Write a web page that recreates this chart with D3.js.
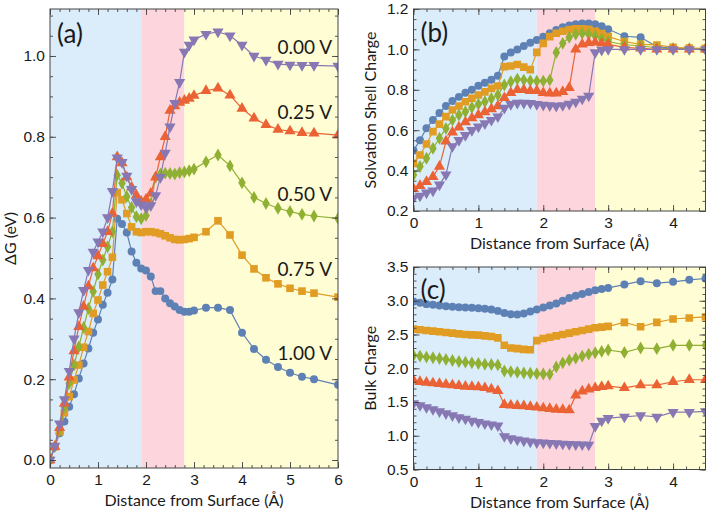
<!DOCTYPE html>
<html>
<head>
<meta charset="utf-8">
<script src="https://cdn.jsdelivr.net/npm/d3@7"></script>
<style>
  body { margin: 0; background: #fff; }
  .tick text { font-family: "Liberation Sans", Arial, sans-serif; font-size: 15.5px; fill: #1a1a1a; }
  .title { font-family: Lato, sans-serif; font-size: 16px; fill: #1a1a1a; }
  .curvelabel { font-family: Lato, sans-serif; font-size: 19px; fill: #1a1a1a; }
  .panellabel { font-family: Lato, sans-serif; font-size: 26px; fill: #1a1a1a; }
</style>
</head>
<body>
<svg id="drawing_region" width="707" height="514"></svg>
<script>
// x grids (distance from surface, Å)
const xA = [0,0.1,0.2,0.3,0.4,0.5,0.6,0.7,0.8,0.9,1.0,1.1,1.2,1.3,1.4,1.5,1.6,1.7,1.8,1.9,
            2.0,2.1,2.2,2.3,2.4,2.5,2.6,2.7,2.8,2.9,3.0,3.25,3.5,3.75,4.0,4.25,4.5,4.75,5.0,5.25,5.5,6.0];
const xB = [0,0.1,0.2,0.3,0.4,0.5,0.6,0.7,0.8,0.9,1.0,1.1,1.2,1.3,1.4,1.5,1.6,1.7,1.8,1.9,
            2.0,2.1,2.2,2.3,2.4,2.5,2.6,2.7,2.8,2.9,3.0,3.25,3.5,3.75,4.0,4.25,4.5];

const potentials = ["1.00 V", "0.75 V", "0.50 V", "0.25 V", "0.00 V"];

// (a) free energy, eV
const dgV100 = [0,0.033,0.066,0.095,0.132,0.163,0.202,0.239,0.276,0.315,0.348,0.384,0.414,0.447,0.597,0.584,0.563,0.516,0.488,0.474,
                0.469,0.454,0.418,0.418,0.40,0.388,0.38,0.371,0.367,0.367,0.37,0.377,0.377,0.371,0.315,0.275,0.248,0.23,0.216,0.206,0.2,0.186];
const dgV075 = [0,0.033,0.07,0.117,0.157,0.198,0.235,0.279,0.318,0.363,0.396,0.433,0.466,0.502,0.662,0.644,0.61,0.577,0.565,0.563,
                0.565,0.565,0.563,0.56,0.555,0.55,0.546,0.545,0.546,0.548,0.551,0.565,0.592,0.557,0.507,0.473,0.451,0.436,0.425,0.418,0.413,0.403];
const dgV050 = [0,0.033,0.075,0.13,0.19,0.235,0.28,0.328,0.375,0.417,0.46,0.495,0.528,0.565,0.705,0.685,0.652,0.625,0.602,0.597,
                0.605,0.635,0.70,0.708,0.71,0.709,0.708,0.711,0.713,0.716,0.72,0.738,0.755,0.728,0.686,0.65,0.635,0.623,0.615,0.608,0.604,0.598];
const dgV025 = [0,0.033,0.08,0.14,0.205,0.27,0.33,0.38,0.43,0.475,0.505,0.535,0.565,0.61,0.75,0.735,0.70,0.675,0.655,0.64,
                0.645,0.66,0.70,0.75,0.80,0.865,0.876,0.885,0.89,0.895,0.902,0.914,0.92,0.903,0.87,0.846,0.83,0.818,0.814,0.81,0.809,0.804];
const dgV000 = [0,0.035,0.09,0.15,0.22,0.30,0.365,0.42,0.47,0.515,0.54,0.565,0.60,0.665,0.748,0.737,0.703,0.67,0.64,0.632,
                0.625,0.63,0.655,0.70,0.76,0.825,0.883,0.935,1.01,1.027,1.04,1.054,1.06,1.05,1.027,1.0,0.99,0.98,0.978,0.977,0.977,0.975];

// (b) solvation shell charge
const shV100 = [0.50,0.55,0.61,0.65,0.685,0.72,0.745,0.765,0.785,0.80,0.82,0.835,0.85,0.87,0.965,0.985,1.0,1.017,1.033,1.047,
                1.063,1.08,1.096,1.11,1.118,1.125,1.128,1.128,1.124,1.115,1.10,1.065,1.06,1.013,1.005,1.003,1.0];
const shV075 = [0.436,0.477,0.532,0.593,0.63,0.667,0.70,0.72,0.741,0.758,0.774,0.79,0.807,0.819,0.915,0.918,0.925,0.912,0.90,0.985,
                1.03,1.063,1.08,1.09,1.098,1.102,1.102,1.099,1.09,1.078,1.063,1.039,1.025,1.022,1.01,1.007,1.005];
const shV050 = [0.378,0.42,0.461,0.51,0.56,0.609,0.65,0.675,0.691,0.713,0.729,0.741,0.757,0.774,0.824,0.84,0.853,0.848,0.845,0.843,
                0.843,0.848,0.985,1.03,1.06,1.075,1.08,1.075,1.066,1.05,1.039,1.023,1.018,1.007,1.003,1.003,1.003];
const shV025 = [0.31,0.325,0.345,0.37,0.42,0.545,0.59,0.615,0.64,0.66,0.675,0.69,0.705,0.72,0.76,0.785,0.80,0.80,0.795,0.795,
                0.785,0.783,0.783,0.79,0.81,1.0,1.025,1.033,1.035,1.03,1.025,1.01,1.005,1.0,1.0,1.0,1.0];
const shV000 = [0.265,0.275,0.29,0.30,0.33,0.38,0.52,0.55,0.575,0.60,0.617,0.633,0.65,0.667,0.71,0.728,0.735,0.735,0.733,0.728,
                0.725,0.722,0.72,0.723,0.73,0.74,0.755,0.77,0.985,0.997,1.0,1.0,1.0,1.0,1.0,1.0,1.0];

// (c) bulk charge
const bcV100 = [2.99,2.97,2.95,2.94,2.93,2.92,2.91,2.905,2.90,2.895,2.89,2.88,2.87,2.85,2.82,2.80,2.795,2.81,2.84,2.87,
                2.90,2.93,2.96,3.0,3.04,3.075,3.10,3.13,3.155,3.175,3.19,3.24,3.29,3.26,3.28,3.31,3.33];
const bcV075 = [2.58,2.57,2.56,2.55,2.54,2.53,2.52,2.51,2.50,2.495,2.49,2.48,2.47,2.45,2.34,2.30,2.29,2.28,2.275,2.41,
                2.44,2.46,2.48,2.50,2.52,2.54,2.56,2.58,2.60,2.61,2.62,2.68,2.615,2.68,2.73,2.745,2.76];
const bcV050 = [2.19,2.18,2.165,2.155,2.145,2.13,2.115,2.10,2.09,2.08,2.07,2.06,2.055,2.05,1.96,1.95,1.94,1.93,1.925,1.92,
                1.915,1.91,2.02,2.08,2.12,2.15,2.18,2.21,2.23,2.25,2.27,2.235,2.30,2.29,2.34,2.34,2.34];
const bcV025 = [1.82,1.80,1.79,1.78,1.77,1.76,1.75,1.74,1.73,1.725,1.72,1.71,1.69,1.665,1.46,1.45,1.445,1.44,1.43,1.42,
                1.41,1.40,1.39,1.385,1.38,1.60,1.66,1.69,1.71,1.725,1.735,1.71,1.75,1.75,1.80,1.83,1.83];
const bcV000 = [1.48,1.45,1.42,1.39,1.36,1.33,1.30,1.27,1.25,1.22,1.20,1.18,1.165,1.15,0.99,0.96,0.94,0.925,0.91,0.90,
                0.895,0.89,0.885,0.88,0.875,0.87,0.868,0.865,1.14,1.22,1.26,1.28,1.30,1.28,1.35,1.35,1.36];

// shaded regions (Å)
const regions = [[0, 1.9], [1.9, 2.8], [2.8, 6]];

// tick labels
const xTicksA = [0,1,2,3,4,5,6];
const yTicksA = [0.0,0.2,0.4,0.6,0.8,1.0];
const xTicksB = [0,1,2,3,4];
const yTicksB = [0.2,0.4,0.6,0.8,1.0,1.2];
const yTicksC = [0.5,1.0,1.5,2.0,2.5,3.0,3.5];

const colors = ["#5E81B5", "#E19C24", "#8FB032", "#EB6235", "#8778B3"];
const shapes = ["circle", "square", "diamond", "up", "down"];
const regionColors = ["#dbecfa", "#fcd6dc", "#fefdd4"];

class Panel {

    constructor( config, xs, series ) {
        this.config = config;
        this.xs = xs;
        this.series = series;
        this.init();
    }

    init() {
        let self = this;
        const c = self.config;

        self.svg = d3.select('#drawing_region');
        self.g = self.svg.append('g')
            .attr('transform', `translate(${c.left}, ${c.top})`);

        self.xscale = d3.scaleLinear().domain(c.xdomain).range([0, c.width]);
        self.yscale = d3.scaleLinear().domain(c.ydomain).range([c.height, 0]);

        self.g.append('clipPath').attr('id', c.id + '_clip')
            .append('rect').attr('width', c.width).attr('height', c.height);
    }

    render() {
        let self = this;
        const c = self.config;
        const plot = self.g.append('g').attr('clip-path', `url(#${c.id}_clip)`);

        // background bands
        plot.selectAll('rect.band').data(regions).enter()
            .append('rect')
            .attr('x', d => self.xscale(d[0]))
            .attr('width', d => self.xscale(Math.min(d[1], c.xdomain[1])) - self.xscale(d[0]))
            .attr('y', 0)
            .attr('height', c.height)
            .attr('fill', (d, i) => regionColors[i]);

        const line = d3.line()
            .x((d, i) => self.xscale(self.xs[i]))
            .y(d => self.yscale(d));

        self.series.forEach( (s, k) => {
            plot.append('path')
                .attr('d', line(s))
                .attr('fill', 'none')
                .attr('stroke', colors[k])
                .attr('stroke-width', 1.2);

            const sym = symbolFor(shapes[k]);
            plot.append('g').selectAll('path')
                .data(s)
                .enter()
                .append('path')
                .attr('d', sym)
                .attr('transform', (d, i) => {
                    let t = `translate(${self.xscale(self.xs[i])},${self.yscale(d)})`;
                    if (shapes[k] == 'down') t += ' rotate(180)';
                    return t;
                })
                .attr('fill', colors[k]);
        });

        self.drawAxes();
    }

    drawAxes() {
        let self = this;
        const c = self.config;
        const xMinor = d3.range(c.xdomain[0], c.xdomain[1] + 1e-9, 0.2);
        const yMinor = d3.range(c.yMinorStart, c.ydomain[1] + 1e-9, c.yMinorStep);

        const addAxis = ( axis, tr ) => {
            const grp = self.g.append('g').attr('transform', tr).call(axis);
            grp.select('.domain').remove();
            grp.selectAll('.tick line').attr('stroke', '#444').attr('stroke-width', 0.9);
            return grp;
        };

        const bottom = `translate(0,${c.height})`;
        const right = `translate(${c.width},0)`;

        addAxis(d3.axisBottom(self.xscale).tickValues(xMinor).tickSize(-3).tickFormat(''), bottom);
        addAxis(d3.axisTop(self.xscale).tickValues(xMinor).tickSize(-3).tickFormat(''), 'translate(0,0)');
        addAxis(d3.axisLeft(self.yscale).tickValues(yMinor).tickSize(-3).tickFormat(''), 'translate(0,0)');
        addAxis(d3.axisRight(self.yscale).tickValues(yMinor).tickSize(-3).tickFormat(''), right);

        addAxis(d3.axisBottom(self.xscale).tickValues(c.xticks).tickSize(-6).tickPadding(6).tickFormat(d3.format('d')), bottom);
        addAxis(d3.axisTop(self.xscale).tickValues(c.xticks).tickSize(-6).tickFormat(''), 'translate(0,0)');
        addAxis(d3.axisLeft(self.yscale).tickValues(c.yticks).tickSize(-6).tickPadding(5).tickFormat(d3.format('.1f')), 'translate(0,0)');
        addAxis(d3.axisRight(self.yscale).tickValues(c.yticks).tickSize(-6).tickFormat(''), right);

        self.g.append('rect')
            .attr('width', c.width).attr('height', c.height)
            .attr('fill', 'none').attr('stroke', '#444').attr('stroke-width', 1);

        self.g.append('text').attr('class', 'title')
            .attr('x', c.width / 2).attr('y', c.height + 38)
            .attr('text-anchor', 'middle')
            .text('Distance from Surface (Å)');

        self.g.append('text').attr('class', 'title')
            .attr('transform', `translate(${c.ytitleX},${c.height / 2}) rotate(-90)`)
            .attr('text-anchor', 'middle')
            .text(c.ytitle);

        self.g.append('text').attr('class', 'panellabel')
            .attr('x', 7).attr('y', c.labelY)
            .text(c.label);
    }
}

function symbolFor( shape ) {
    if (shape == 'circle') return d3.symbol().type(d3.symbolCircle).size(50)();
    if (shape == 'square') return d3.symbol().type(d3.symbolSquare).size(58)();
    if (shape == 'diamond') return d3.symbol().type(d3.symbolDiamond).size(48)();
    return d3.symbol().type(d3.symbolTriangle).size(54)();
}

const panelA = new Panel({
    id: 'pa', left: 50, top: 9, width: 288, height: 459,
    xdomain: [0, 6], ydomain: [-0.0198, 1.1163],
    xticks: xTicksA, yticks: yTicksA, yMinorStart: 0, yMinorStep: 0.05,
    ytitle: 'ΔG (eV)', ytitleX: -34, label: '(a)', labelY: 34
}, xA, [dgV100, dgV075, dgV050, dgV025, dgV000]);
panelA.render();

// curve labels for (a)
const labelY = [0.2475, 0.455, 0.641, 0.844, 1.005];
panelA.g.selectAll('text.curvelabel')
    .data(potentials)
    .enter()
    .append('text')
    .attr('class', 'curvelabel')
    .attr('text-anchor', 'end')
    .attr('x', panelA.xscale(5.875))
    .attr('y', (d, i) => panelA.yscale(labelY[i]))
    .text(d => d);

const panelB = new Panel({
    id: 'pb', left: 413.5, top: 9, width: 292, height: 202,
    xdomain: [0, 4.5], ydomain: [0.2, 1.2],
    xticks: xTicksB, yticks: yTicksB, yMinorStart: 0.2, yMinorStep: 0.05,
    ytitle: 'Solvation Shell Charge', ytitleX: -38, label: '(b)', labelY: 33
}, xB, [shV100, shV075, shV050, shV025, shV000]);
panelB.render();

const panelC = new Panel({
    id: 'pc', left: 413.5, top: 267, width: 292, height: 202.5,
    xdomain: [0, 4.5], ydomain: [0.5, 3.5],
    xticks: xTicksB, yticks: yTicksC, yMinorStart: 0.5, yMinorStep: 0.1,
    ytitle: 'Bulk Charge', ytitleX: -38, label: '(c)', labelY: 32
}, xB, [bcV100, bcV075, bcV050, bcV025, bcV000]);
panelC.render();
</script>
</body>
</html>
